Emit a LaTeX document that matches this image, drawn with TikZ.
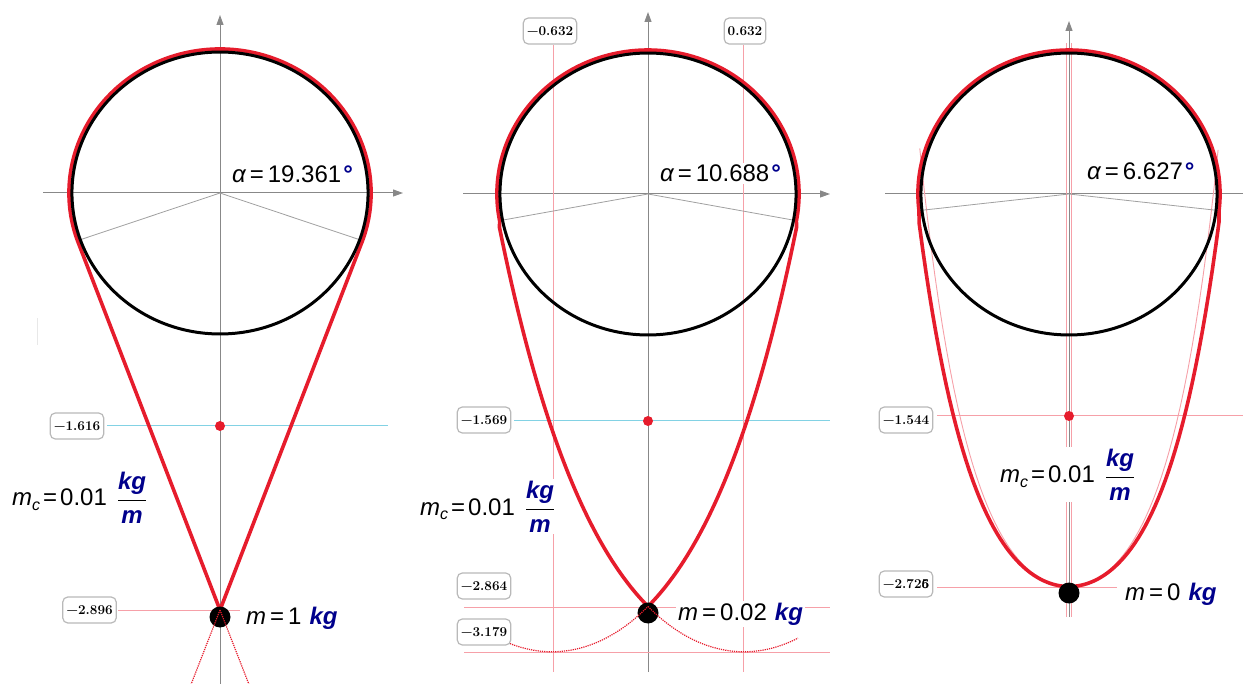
\documentclass[tikz,border=0pt]{standalone}
\usepackage{fontspec}
\usetikzlibrary{arrows.meta}
\newfontfamily\arialf{Liberation Sans}
\definecolor{beltred}{RGB}{230,28,44}
\definecolor{navyb}{RGB}{0,0,140}
\definecolor{cyanl}{RGB}{130,210,228}
\definecolor{redl}{RGB}{246,160,168}
\definecolor{axisgray}{RGB}{136,136,136}
\newcommand{\kgu}{{\color{navyb}\bfseries\itshape kg}}
\newcommand{\munit}{{\color{navyb}\bfseries\itshape m}}
\newcommand{\degu}{\hspace{2pt}{\color{navyb}\bfseries °}}
\newcommand{\eqs}{\hspace{4pt}=\hspace{4pt}}
\newcommand{\mclabel}{{\itshape m}\raisebox{-0.35ex}{\fontsize{16}{16}\selectfont\itshape c}\hspace{3pt}=\hspace{3pt}0.01\hspace{10pt}$\displaystyle\frac{\hbox{\kgu}}{\hbox{\munit}}$}
\begin{document}
\begin{tikzpicture}[x=1pt,y=-1pt,
  declare function={catL(\t)=0.6975*(cosh((\t-0.64)/0.6975)-1)-3.179;
                    catM(\t)=0.361*(cosh(\t/0.361)-1)-2.726;
                    catT(\t)=0.33*(cosh(\t/0.33)-1)-2.726;},
  axis/.style={draw=axisgray, line width=1pt},
  axarrow/.style={axis, -{Triangle[length=10pt,width=7pt]}},
  rad/.style={draw=axisgray!80, line width=0.8pt},
  belt/.style={draw=beltred, line width=3.6pt, line join=round},
  wheel/.style={draw=black, line width=3pt},
  hred/.style={draw=redl, line width=1pt},
  hredthick/.style={draw=beltred, densely dotted, line width=1.2pt},
  hcyan/.style={draw=cyanl, line width=1pt},
  thinred/.style={draw=redl, line width=0.9pt},
  valbox/.style={draw=gray!55, rounded corners=5pt, line width=1.2pt, fill=white,
     minimum height=26pt, inner xsep=3.5pt, inner ysep=0pt,
     font=\bfseries\fontsize{13.5}{15}\selectfont},
  lbl/.style={font=\arialf\fontsize{24}{28}\selectfont, fill=white, inner sep=2pt, anchor=base west},
  massdot/.style={circle, fill=black, minimum size=21pt, inner sep=0pt},
  redpt/.style={circle, fill=beltred, minimum size=10pt, inner sep=0pt}
]
\useasboundingbox (0,0) rectangle (1243,684);
\clip (0,0) rectangle (1243,684);

% faint mark
\draw[gray!18, line width=1pt] (37,318) -- (37,345);

% ---------- axes ----------
\draw[axarrow] (220,684) -- (220,15);
\draw[axarrow] (43,193) -- (403,193);
\draw[axarrow] (648,672) -- (648,12);
\draw[axarrow] (463,194) -- (830,194);
\draw[axarrow] (1069,617) -- (1069,21);
\draw[axis] (885,194) -- (1243,194);

% ---------- guide lines ----------
\draw[hcyan] (107,426) -- (388,426);
\draw[hred] (118,610) -- (240,610);
\draw[hcyan] (514,421) -- (830,421);
\draw[hred] (464,607) -- (830,607);
\draw[hred] (464,652) -- (830,652);
\draw[hred] (553,45) -- (553,672);
\draw[hred] (743,45) -- (743,672);
\draw[hred] (937,416) -- (1243,416);
\draw[hred] (937,587) -- (1117,587);
\draw[hred] (1066.5,43) -- (1066.5,617);
\draw[hred] (1071.5,43) -- (1071.5,617);

% ---------- text labels ----------
\node[lbl] (al1) at (230,183) {{\itshape α}\eqs 19.361\degu};
\node[lbl] (al2) at (658,182) {{\itshape α}\eqs 10.688\degu};
\node[lbl] (al3) at (1085,180) {{\itshape α}\eqs 6.627\degu};
\node[lbl] (mc1) at (10,506) {\mclabel};
\node[lbl] (mc2) at (418,515) {\mclabel};
\node[lbl] (mc3) at (998,483) {\mclabel};
\node[lbl] (m1) at (244,624) {{\itshape m}\eqs 1\hspace{8pt}\kgu};
\node[lbl] (m2) at (676,620) {{\itshape m}\eqs 0.02\hspace{8pt}\kgu};
\node[lbl] (m3) at (1123,600) {{\itshape m}\eqs 0\hspace{8pt}\kgu};

% ---------- panel 1 ----------
\begin{scope}[shift={(220,193)},x=150pt,y=144pt]
  \draw[rad] (199.361:0.987 and 0.979) -- (0,0) -- (-19.361:0.987 and 0.979);
  \coordinate (A1) at (0,-2.896);
  \draw[belt] (A1) -- (-19.361:1.007 and 1)
     arc[start angle=-19.361,end angle=199.361,x radius=1.007,y radius=1] -- cycle;
  \draw[wheel] (0,0) ellipse[x radius=0.987,y radius=0.979];
\end{scope}
\node[redpt] (p1) at (220,426) {};
\node[massdot] (M1) at (220,617) {};
\begin{scope}[shift={(220,193)},x=150pt,y=144pt]
  \draw[hredthick] (A1) -- (0.207,-3.45);
  \draw[hredthick] (A1) -- (-0.207,-3.45);
\end{scope}

% ---------- panel 2 ----------
\begin{scope}[shift={(648,194)},x=150pt,y=144pt]
  \draw[rad] (190.688:0.987 and 0.979) -- (0,0) -- (-10.688:0.987 and 0.979);
  \coordinate (A2) at (0,-2.864);
  \draw[belt] (A2) -- plot[domain=0:-0.99,samples=50] (\x,{catL(\x)})
     -- (190.688:1.007 and 1)
     arc[start angle=190.688,end angle=-10.688,x radius=1.007,y radius=1]
     -- plot[domain=0.99:0,samples=50] (\x,{catL(-\x)}) -- cycle;
  \draw[wheel] (0,0) ellipse[x radius=0.987,y radius=0.979];
\end{scope}
\node[redpt] (p2) at (648,421) {};
\node[massdot] (M2) at (648,613) {};
\begin{scope}[shift={(648,194)},x=150pt,y=144pt]
  \draw[hredthick] plot[domain=0:1.0,samples=40] (\x,{catL(\x)});
  \draw[hredthick] plot[domain=-1.0:0,samples=40] (\x,{catL(-\x)});
\end{scope}

% ---------- panel 3 ----------
\begin{scope}[shift={(1069,194)},x=150pt,y=144pt]
  \draw[thinred] plot[domain=-0.995:0.995,samples=80] (\x,{catT(\x)});
  \draw[rad] (186.627:0.987 and 0.979) -- (0,0) -- (-6.627:0.987 and 0.979);
  \draw[belt] (186.627:1.007 and 1)
     arc[start angle=186.627,end angle=-6.627,x radius=1.007,y radius=1]
     -- plot[domain=1.0:-1.0,samples=90] (\x,{catM(\x)}) -- cycle;
  \draw[wheel] (0,0) ellipse[x radius=0.987,y radius=0.979];
\end{scope}
\node[redpt] (p3) at (1069,416) {};
\node[massdot] (M3) at (1069,593) {};

% ---------- value boxes ----------
\node[valbox] (v1a) at (77,426) {−1.616};
\node[valbox] (v1b) at (89.5,610) {−2.896};
\node[valbox] (v2x1) at (550,31) {−0.632};
\node[valbox] (v2x2) at (745,31) {0.632};
\node[valbox] (v2a) at (484,420) {−1.569};
\node[valbox] (v2b) at (484,586) {−2.864};
\node[valbox] (v2c) at (484,632) {−3.179};
\node[valbox] (v3a) at (906,420) {−1.544};
\node[valbox] (v3b) at (906,584) {−2.72\makebox[0pt][l]{5}6};
\end{tikzpicture}
\end{document}
